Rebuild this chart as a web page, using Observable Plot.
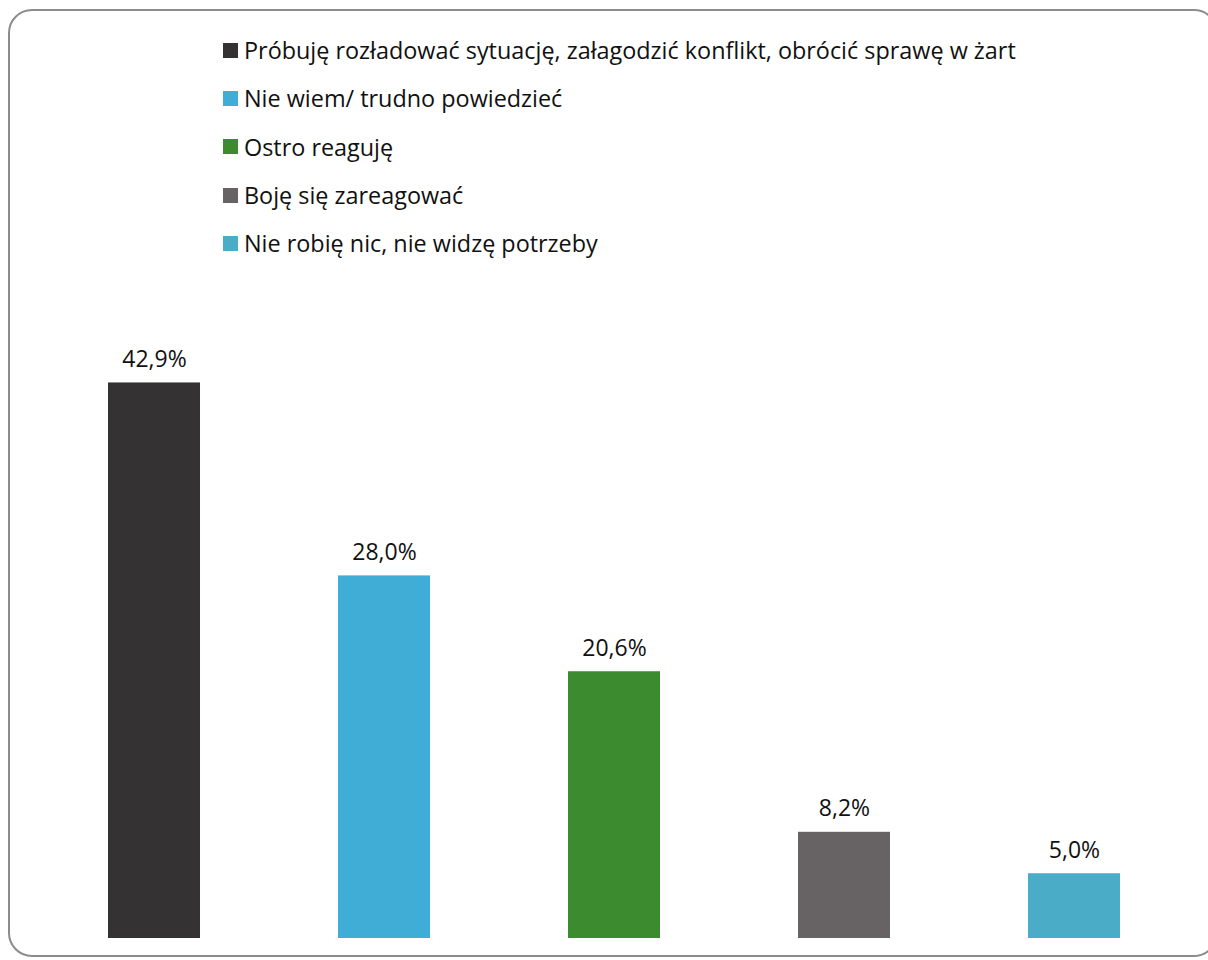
<!DOCTYPE html>
<html>
<head>
<meta charset="utf-8">
<script src="https://cdn.jsdelivr.net/npm/d3@7"></script>
<script src="https://cdn.jsdelivr.net/npm/@observablehq/plot@0.6"></script>
<style>
  html, body { margin: 0; padding: 0; background: #fff; }
  #wrap { position: relative; width: 1208px; height: 960px; overflow: hidden; font-family: "Open Sans", sans-serif; }
  #frame { position: absolute; left: 8px; top: 9px; width: 1210px; height: 948px; border: 2px solid #8c8c8c; border-radius: 24px; box-sizing: border-box; }
  #legend { position: absolute; left: 223px; top: 26px; }
  .row { display: flex; align-items: center; height: 48.3px; font-size: 23.4px; color: #111; white-space: nowrap; }
  .sw { width: 15px; height: 15px; margin-right: 6px; flex: none; }
  #chart { position: absolute; left: 0; top: 280px; }
</style>
</head>
<body>
<div id="wrap">
  <div id="frame"></div>
  <div id="legend"></div>
  <div id="chart"></div>
</div>
<script>
const categories = [
  "Próbuję rozładować sytuację, załagodzić konflikt, obrócić sprawę w żart",
  "Nie wiem/ trudno powiedzieć",
  "Ostro reaguję",
  "Boję się zareagować",
  "Nie robię nic, nie widzę potrzeby"
];
const values = [42.9, 28.0, 20.6, 8.2, 5.0];
const colors = ["#343233", "#40ADD6", "#3D8B2F", "#676364", "#4AACC6"];

const data = categories.map((c, i) => ({category: c, value: values[i], color: colors[i]}));

const legend = document.getElementById("legend");
data.forEach(d => {
  const row = document.createElement("div");
  row.className = "row";
  const sw = document.createElement("span");
  sw.className = "sw";
  sw.style.background = d.color;
  const t = document.createElement("span");
  t.textContent = d.category;
  row.appendChild(sw);
  row.appendChild(t);
  legend.appendChild(row);
});

const fmt = v => v.toFixed(1).replace(".", ",") + "%";

const chart = Plot.plot({
  width: 1208,
  height: 680,
  marginTop: 10.5,
  marginBottom: 22,
  marginLeft: 38,
  marginRight: 17,
  x: {domain: categories, paddingInner: 0.6, paddingOuter: 0.3, axis: null},
  y: {domain: [0, 50], axis: null},
  style: {fontFamily: "Open Sans, sans-serif", background: "transparent"},
  marks: [
    Plot.barY(data, {x: "category", y: "value", fill: "color"}),
    Plot.text(data, {x: "category", y: "value", text: d => fmt(d.value), dy: -16, lineAnchor: "bottom", fontSize: 23, fill: "#111"})
  ]
});
document.getElementById("chart").appendChild(chart);
</script>
</body>
</html>
